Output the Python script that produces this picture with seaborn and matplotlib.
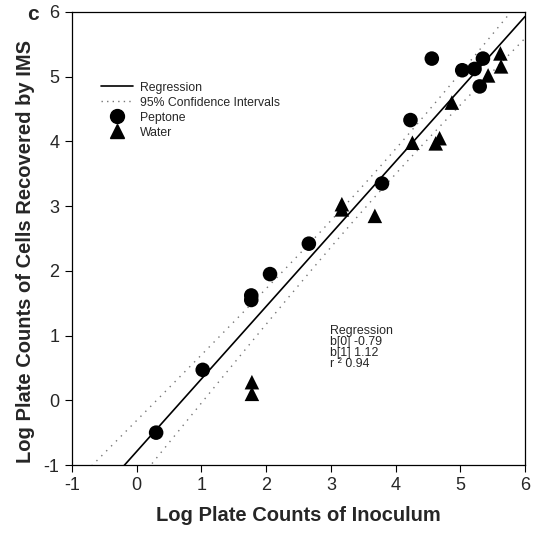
import numpy as np
import pandas as pd
import matplotlib
matplotlib.use("Agg")
import matplotlib.pyplot as plt
import seaborn as sns
from matplotlib.lines import Line2D

# ---- data ----
peptone_x = [0.30, 1.02, 1.77, 1.77, 2.06, 2.66, 3.79, 4.23, 4.56, 5.03, 5.22, 5.35, 5.30]
peptone_y = [-0.50, 0.47, 1.62, 1.55, 1.95, 2.42, 3.35, 4.33, 5.28, 5.10, 5.12, 5.28, 4.85]
water_x = [1.78, 1.78, 3.17, 3.17, 3.68, 4.26, 4.62, 4.68, 4.87, 5.43, 5.62, 5.63]
water_y = [0.28, 0.10, 3.03, 2.95, 2.85, 3.98, 3.97, 4.05, 4.60, 5.02, 5.36, 5.16]
b0, b1, r2 = -0.79, 1.12, 0.94
ticks = [-1, 0, 1, 2, 3, 4, 5, 6]

sns.set_theme(style="white")
plt.rcParams['font.family'] = ['Liberation Sans', 'DejaVu Sans']

fig = plt.figure(figsize=(5.4, 5.38), dpi=100)
ax = fig.add_axes([72/540, 1-465/538, (525-72)/540, (465-12)/538])

df = pd.DataFrame({
    "x": peptone_x + water_x,
    "y": peptone_y + water_y,
    "group": ["Peptone"]*len(peptone_x) + ["Water"]*len(water_x),
})

# regression line and 95% confidence intervals of the mean
allx = np.array(df["x"]); ally = np.array(df["y"])
n = len(allx)
resid = ally - (b0 + b1*allx)
s = np.sqrt(np.sum(resid**2)/(n-2))
xbar = allx.mean(); sxx = np.sum((allx-xbar)**2)
xs = np.linspace(-1, 6, 200)
yhat = b0 + b1*xs
half = 2.069 * s * np.sqrt(1/n + (xs-xbar)**2/sxx)
line_df = pd.DataFrame({"x": xs, "yhat": yhat, "lo": yhat-half, "hi": yhat+half})

sns.lineplot(data=line_df, x="x", y="yhat", ax=ax, color="black", lw=1.2)
sns.lineplot(data=line_df, x="x", y="lo", ax=ax, color="#777777", lw=1.0, linestyle=(0, (1, 4)))
sns.lineplot(data=line_df, x="x", y="hi", ax=ax, color="#777777", lw=1.0, linestyle=(0, (1, 4)))

sns.scatterplot(data=df, x="x", y="y", style="group", markers={"Peptone": "o", "Water": "^"},
                color="black", s=110, edgecolor="black", linewidth=0, ax=ax, legend=False, zorder=5)

ax.set_xlim(-1, 6)
ax.set_ylim(-1, 6)
ax.set_xticks(ticks)
ax.set_yticks(ticks)
ax.set_xticklabels([str(t) for t in ticks])
ax.set_yticklabels([str(t) for t in ticks])
ax.tick_params(axis="both", direction="out", length=5, width=0.8, color="black",
               labelsize=13, pad=4, bottom=True, left=True)
for sp in ax.spines.values():
    sp.set_color("black")
    sp.set_linewidth(0.9)

ax.set_xlabel("Log Plate Counts of Inoculum", fontsize=14.5, fontweight="bold", labelpad=8)
ax.set_ylabel("Log Plate Counts of Cells Recovered by IMS", fontsize=14.5, fontweight="bold")
ax.yaxis.set_label_coords(-0.082, 0.472)

fig.text(33/540, 1-14/538, "c", fontsize=15, fontweight="bold", ha="center", va="center")

handles = [
    Line2D([], [], color="black", lw=1.2),
    Line2D([], [], color="#777777", lw=1.0, linestyle=(0, (1, 3))),
    Line2D([], [], marker="o", color="black", linestyle="none", markersize=10),
    Line2D([], [], marker="^", color="black", linestyle="none", markersize=10),
]
labels = ["Regression", "95% Confidence Intervals", "Peptone", "Water"]
ax.legend(handles, labels, loc="upper left", bbox_to_anchor=(0.05, 0.86), frameon=False,
          fontsize=8.8, handlelength=2.6, handletextpad=0.6, labelspacing=0.25, borderpad=0)

ax.text(2.99, 1.17, "Regression\nb[0] -0.79\nb[1] 1.12\nr ² 0.94", fontsize=8.9,
        ha="left", va="top", linespacing=0.9)

fig.savefig("out.png", dpi=100)
